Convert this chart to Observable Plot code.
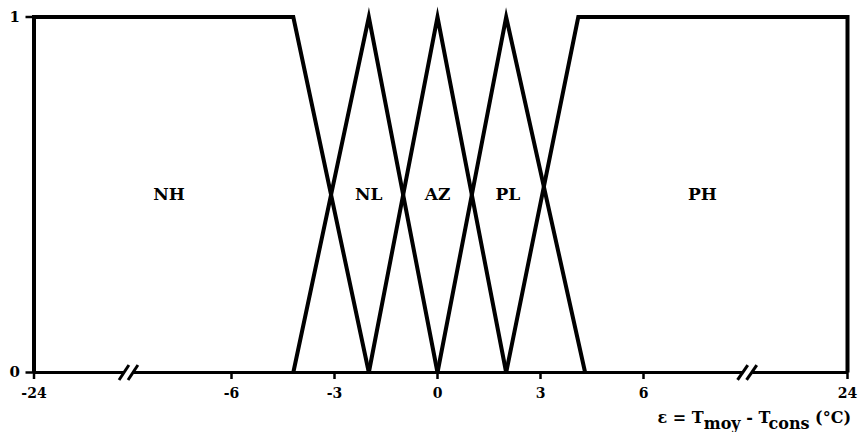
<!DOCTYPE html>
<html><head><meta charset="utf-8">
<script src="https://cdn.jsdelivr.net/npm/d3@7"></script>
<script src="https://cdn.jsdelivr.net/npm/@observablehq/plot@0.6"></script>
<style>body{margin:0;background:#fff}</style>
</head><body><div id="chart"></div>
<script>
// Membership functions (x in °C, y = membership degree)
const setNames = ["NH", "NL", "AZ", "PL", "PH"];
const nhX = [-24, -24, -4.2, -2];   const nhY = [0, 1, 1, 0];
const nlX = [-4.2, -2, 0];          const nlY = [0, 1, 0];
const azX = [-2, 0, 2];             const azY = [0, 1, 0];
const plX = [0, 2, 4.3];            const plY = [0, 1, 0];
const phX = [2, 4.1, 24, 24];       const phY = [0, 1, 1, 0];
// label positions
const labelX = [-11.7, -2, 0, 2.05, 11.2];
const labelY = [0.5, 0.5, 0.5, 0.5, 0.5];
// axis ticks and breaks
const xTicks = [-24, -6, -3, 0, 3, 6, 24];
const yTicks = [0, 1];
const xBreaks = [-15.4, 15.15];

const sets = [[nhX, nhY], [nlX, nlY], [azX, azY], [plX, plY], [phX, phY]];
const lineData = sets.flatMap(([xs, ys], i) => xs.map((x, j) => ({set: setNames[i], x, y: ys[j]})));
const labelData = setNames.map((n, i) => ({name: n, x: labelX[i], y: labelY[i]}));

const font = "DejaVu Serif";
const plot = Plot.plot({
  width: 858, height: 432,
  marginTop: 16.5, marginBottom: 60, marginLeft: 33.5, marginRight: 11,
  style: {fontFamily: font, fontWeight: "bold", fontSize: "14px", color: "black", background: "white"},
  x: {type: "linear", domain: [-24, -6, 6, 24], range: [33.5, 231, 643, 847]},
  y: {domain: [0, 1]},
  marks: [
    Plot.ruleY([0], {stroke: "black", strokeWidth: 3}),
    Plot.axisX({ticks: xTicks, tickSize: 7, tickPadding: 9, strokeWidth: 2.5, tickFormat: d => String(d), label: null, fontSize: 14}),
    Plot.axisY({ticks: yTicks, tickSize: 8, tickPadding: 6, strokeWidth: 2.5, tickFormat: d => String(d), label: null, fontSize: 15}),
    Plot.line(lineData, {x: "x", y: "y", z: "set", stroke: "black", strokeWidth: 4, strokeLinejoin: "miter", strokeMiterlimit: 10, strokeLinecap: "butt"}),
    Plot.link(xBreaks, {x1: d => d - 0.4, x2: d => d + 0.45, y1: 0, y2: 0, stroke: "white", strokeWidth: 7}),
    Plot.link(xBreaks, {x1: d => d - 0.85, x2: d => d + 0.05, y1: -0.021, y2: 0.021, stroke: "black", strokeWidth: 3}),
    Plot.link(xBreaks, {x1: d => d - 0.85, x2: d => d + 0.05, y1: -0.021, y2: 0.021, stroke: "black", strokeWidth: 3, dx: 9}),
    Plot.text(labelData, {x: "x", y: "y", text: "name", fontSize: 17, fontWeight: "bold", fill: "black"})
  ]
});
document.getElementById("chart").appendChild(plot);

// axis title with subscripts
const svg = d3.select(plot);
const xr = plot.scale("x").apply(24) + 4;
const t = svg.append("text")
  .attr("x", xr).attr("y", 423)
  .attr("text-anchor", "end")
  .attr("font-family", font).attr("font-weight", "bold").attr("font-size", 16)
  .attr("fill", "black");
t.append("tspan").text("ε = T");
t.append("tspan").attr("dy", 6).text("moy");
t.append("tspan").attr("dy", -6).text(" - T");
t.append("tspan").attr("dy", 6).text("cons");
t.append("tspan").attr("dy", -6).text(" (°C)");
</script>
</body></html>
